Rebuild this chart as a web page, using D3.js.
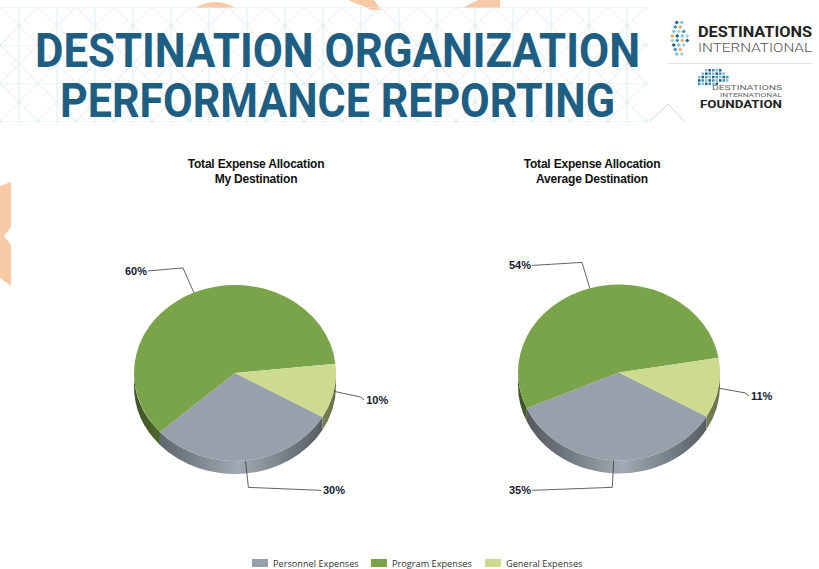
<!DOCTYPE html>
<html>
<head>
<meta charset="utf-8">
<script src="https://cdn.jsdelivr.net/npm/d3@7"></script>
<style>
  html, body { margin: 0; padding: 0; background: #fff; }
  svg { display: block; }
</style>
</head>
<body>
<div id="chart"></div>
<script>
// chart data
const categories = ['Personnel Expenses', 'Program Expenses', 'General Expenses'];
const myDestination = [30, 60, 10];
const averageDestination = [35, 54, 11];
const chartTitles = [
    ['Total Expense Allocation', 'My Destination'],
    ['Total Expense Allocation', 'Average Destination']
];
const headerLines = ['DESTINATION ORGANIZATION', 'PERFORMANCE REPORTING'];

const width = 819, height = 569;
const colors = {
    'Personnel Expenses': '#97a1ab',
    'Program Expenses': '#79a449',
    'General Expenses': '#ccdb8f'
};
const titleBlue = '#1e5e82';

const svg = d3.select('#chart').append('svg')
    .attr('width', width)
    .attr('height', height);

const defs = svg.append('defs');

// header lattice pattern
const pat = defs.append('pattern')
    .attr('id', 'lattice')
    .attr('patternUnits', 'userSpaceOnUse')
    .attr('x', 0).attr('y', 7)
    .attr('width', 38).attr('height', 38);
pat.append('path')
    .attr('d', 'M0,0L38,38M38,0L0,38M0,0H38M19,0V38')
    .attr('stroke', '#dcedf2')
    .attr('stroke-width', 1)
    .attr('fill', 'none');

// ---------- header ----------
const header = svg.append('g');

// peach shapes peeking above the band
header.selectAll('path.peach')
    .data([
        'M195,8 Q215,-4 236,8 Z',
        'M348,0 L374,0 L381,10 L372,10 Z',
        'M462,8 L478,0 L500,0 L500,8 Z'
    ])
    .join('path')
    .attr('class', 'peach')
    .attr('d', d => d)
    .attr('fill', '#f8c9a7');

header.append('rect')
    .attr('x', 0).attr('y', 7)
    .attr('width', 648).attr('height', 116)
    .attr('fill', 'url(#lattice)');

header.selectAll('text.head')
    .data(headerLines)
    .join('text')
    .attr('class', 'head')
    .attr('x', (d, i) => i === 0 ? 35 : 60)
    .attr('y', (d, i) => i === 0 ? 67 : 117)
    .attr('textLength', (d, i) => i === 0 ? 605 : 555)
    .attr('lengthAdjust', 'spacingAndGlyphs')
    .attr('font-family', 'Roboto, "Open Sans", sans-serif')
    .attr('font-weight', 700)
    .attr('font-size', 48)
    .attr('fill', titleBlue)
    .text(d => d);

// logos
const logo = svg.append('g');
const dotColors = ['#1f5f84', '#3c8fb5', '#7cc0d8', '#f2a766', '#9fd0e0'];
const dots = [];
for (let r = 0; r < 8; r++) {
    for (let c = 0; c < 5; c++) {
        const off = Math.abs(r - 3.5);
        if (c > 4 - off / 1.2) continue;
        dots.push({x: 670 + c * 5 + off * 1.5, y: 21 + r * 4.5, c: dotColors[(r + c * 2) % dotColors.length]});
    }
}
logo.selectAll('rect.dot')
    .data(dots)
    .join('rect')
    .attr('class', 'dot')
    .attr('x', d => d.x).attr('y', d => d.y)
    .attr('width', 3).attr('height', 3)
    .attr('transform', d => `rotate(45,${d.x + 1.5},${d.y + 1.5})`)
    .attr('fill', d => d.c);

logo.append('text')
    .attr('x', 698).attr('y', 37)
    .attr('textLength', 114).attr('lengthAdjust', 'spacingAndGlyphs')
    .attr('font-family', 'Roboto, sans-serif')
    .attr('font-weight', 700).attr('font-size', 14)
    .attr('fill', '#222')
    .text('DESTINATIONS');
logo.append('text')
    .attr('x', 698).attr('y', 52)
    .attr('textLength', 114).attr('lengthAdjust', 'spacingAndGlyphs')
    .attr('font-family', 'Roboto, sans-serif')
    .attr('font-weight', 300).attr('font-size', 13)
    .attr('fill', '#555')
    .text('INTERNATIONAL');
logo.append('line')
    .attr('x1', 668).attr('x2', 812)
    .attr('y1', 63.5).attr('y2', 63.5)
    .attr('stroke', '#e2e2e2');

// small globe mark
const rowHalf = [2, 3, 4, 4, 4];
const globe = [];
rowHalf.forEach((h, r) => {
    for (let c = -h; c <= h; c++) {
        if (r === 4 && c > 1) continue;
        globe.push({x: 712 + c * 3.5, y: 69 + r * 3.4, c: dotColors[(c + 4 + r) % 3]});
    }
});
logo.selectAll('rect.globe')
    .data(globe)
    .join('rect')
    .attr('class', 'globe')
    .attr('x', d => d.x).attr('y', d => d.y)
    .attr('width', 2.5).attr('height', 2.5)
    .attr('fill', d => d.c);

logo.append('text')
    .attr('x', 712).attr('y', 89.5)
    .attr('textLength', 70).attr('lengthAdjust', 'spacingAndGlyphs')
    .attr('font-family', 'Roboto, sans-serif')
    .attr('font-size', 8).attr('fill', '#666')
    .text('DESTINATIONS');
logo.append('text')
    .attr('x', 720).attr('y', 96.5)
    .attr('textLength', 62).attr('lengthAdjust', 'spacingAndGlyphs')
    .attr('font-family', 'Roboto, sans-serif')
    .attr('font-size', 6).attr('fill', '#666')
    .text('INTERNATIONAL');
logo.append('text')
    .attr('x', 700).attr('y', 108)
    .attr('textLength', 82).attr('lengthAdjust', 'spacingAndGlyphs')
    .attr('font-family', 'Roboto, sans-serif')
    .attr('font-weight', 700).attr('font-size', 11)
    .attr('fill', '#222')
    .text('FOUNDATION');
logo.append('path')
    .attr('d', 'M650,121 L668,104 L684,121')
    .attr('fill', 'none')
    .attr('stroke', '#c8c8c8')
    .attr('stroke-width', 0.8);

// left peach decoration
svg.append('path')
    .attr('d', 'M0,186 L11,182 L11,227 L4,236 L11,245 L11,286 L0,278 Z')
    .attr('fill', '#f8c9a7');

// ---------- 3D pies ----------
const rx = 101, ry = 88, depth = 13;
const pie = d3.pie()
    .sort(null)
    .startAngle(2 * Math.PI / 3)
    .endAngle(2 * Math.PI / 3 + 2 * Math.PI);

// side gradients, one per category and chart
categories.forEach((cat, i) => {
    const base = d3.color(colors[cat]);
    ['l', 'r'].forEach(side => {
        const g = defs.append('linearGradient')
            .attr('id', `side-${side}-${i}`)
            .attr('gradientUnits', 'userSpaceOnUse')
            .attr('x1', side === 'l' ? 235 - rx : 619 - rx)
            .attr('x2', side === 'l' ? 235 + rx : 619 + rx)
            .attr('y1', 0).attr('y2', 0);
        g.append('stop').attr('offset', '0%').attr('stop-color', base.darker(1.9));
        g.append('stop').attr('offset', '20%').attr('stop-color', base.darker(1.0));
        g.append('stop').attr('offset', '52%').attr('stop-color', base.brighter(0.15));
        g.append('stop').attr('offset', '82%').attr('stop-color', base.darker(1.0));
        g.append('stop').attr('offset', '100%').attr('stop-color', base.darker(1.9));
    });
});

function drawPie(values, titles, cx, cy, titleX, key) {
    const g = svg.append('g');
    const arcs = pie(values).map((a, i) => Object.assign(a, {cat: categories[i], idx: i}));

    const pt = (a, dx = 0, dy = 0) => [cx + (rx + dx) * Math.sin(a), cy - (ry + dy) * Math.cos(a)];

    // sides (front half only: angles between pi/2 and 3pi/2, mod 2pi)
    const sides = [];
    arcs.forEach(a => {
        [0, 1].forEach(k => {
            const lo = Math.PI / 2 + 2 * Math.PI * k, hi = 3 * Math.PI / 2 + 2 * Math.PI * k;
            const s = Math.max(a.startAngle, lo), e = Math.min(a.endAngle, hi);
            if (e > s) sides.push({s, e, cat: a.cat, idx: a.idx});
        });
    });
    g.selectAll('path.side')
        .data(sides)
        .join('path')
        .attr('class', 'side')
        .attr('d', d => {
            const p0 = pt(d.s), p1 = pt(d.e);
            const large = d.e - d.s > Math.PI ? 1 : 0;
            return `M${p0}A${rx},${ry} 0 ${large} 1 ${p1}` +
                `L${p1[0]},${p1[1] + depth}` +
                `A${rx},${ry} 0 ${large} 0 ${p0[0]},${p0[1] + depth}Z`;
        })
        .attr('fill', d => `url(#side-${key}-${d.idx})`);

    // top faces
    g.selectAll('path.top')
        .data(arcs)
        .join('path')
        .attr('class', 'top')
        .attr('d', d => {
            const p0 = pt(d.startAngle), p1 = pt(d.endAngle);
            const large = d.endAngle - d.startAngle > Math.PI ? 1 : 0;
            return `M${cx},${cy}L${p0}A${rx},${ry} 0 ${large} 1 ${p1}Z`;
        })
        .attr('fill', d => colors[d.cat]);

    // leader lines and labels
    const labels = arcs.map(d => {
        const mid = (d.startAngle + d.endAngle) / 2;
        const start = pt(mid);
        const elbow = pt(mid, 27, 27);
        const right = Math.sin(mid) > 0;
        const endX = right ? Math.max(cx + 86, elbow[0] + 4) : Math.min(cx - 87, elbow[0] - 4);
        const end = [endX, elbow[1] + 3];
        return {start, elbow, end, right, value: d.value};
    });
    g.selectAll('polyline.leader')
        .data(labels)
        .join('polyline')
        .attr('class', 'leader')
        .attr('points', d => [d.start, d.elbow, d.end].join(' '))
        .attr('fill', 'none')
        .attr('stroke', '#3a3a3a')
        .attr('stroke-width', 0.8);
    g.selectAll('text.lbl')
        .data(labels)
        .join('text')
        .attr('class', 'lbl')
        .attr('x', d => d.right ? d.end[0] + 2 : d.end[0] - 1)
        .attr('y', d => d.end[1] + 4)
        .attr('text-anchor', d => d.right ? 'start' : 'end')
        .attr('font-family', '"Liberation Sans", Arial, sans-serif')
        .attr('font-weight', 700)
        .attr('font-size', 11)
        .attr('fill', '#141a30')
        .text(d => d.value + '%');

    // title
    g.selectAll('text.title')
        .data(titles)
        .join('text')
        .attr('class', 'title')
        .attr('x', titleX)
        .attr('y', (d, i) => 168 + i * 14.5)
        .attr('text-anchor', 'middle')
        .attr('font-family', '"Liberation Sans", Arial, sans-serif')
        .attr('font-weight', 700)
        .attr('font-size', 12)
        .attr('letter-spacing', -0.2)
        .attr('fill', '#111')
        .text(d => d);
}

drawPie(myDestination, chartTitles[0], 235, 373, 256, 'l');
drawPie(averageDestination, chartTitles[1], 619, 372.5, 592, 'r');

// ---------- legend ----------
const legendX = [252, 371, 485];
const legend = svg.append('g');
const items = legend.selectAll('g.item')
    .data(categories)
    .join('g')
    .attr('class', 'item')
    .attr('transform', (d, i) => `translate(${legendX[i]},559)`);
items.append('rect')
    .attr('width', 16).attr('height', 8)
    .attr('fill', d => colors[d]);
items.append('text')
    .attr('x', 21).attr('y', 8)
    .attr('font-family', '"Open Sans", sans-serif')
    .attr('font-size', 9.2)
    .attr('fill', '#333')
    .text(d => d);
</script>
</body>
</html>
